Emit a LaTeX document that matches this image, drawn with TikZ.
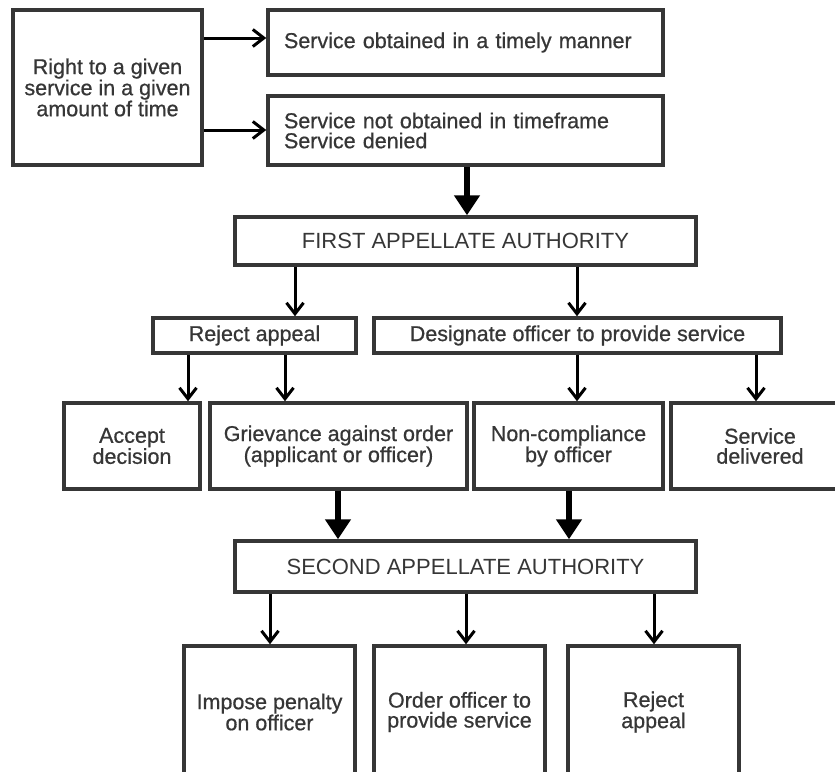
\documentclass[tikz,border=0pt]{standalone}
\usepackage{fontspec}
\setmainfont{Liberation Sans}
\newfontfamily\heavyfont[FakeBold=0.7]{Liberation Sans}
\usetikzlibrary{arrows.meta}
\definecolor{boxgray}{HTML}{363636}
\tikzset{box/.style={draw=boxgray,line width=3.5pt,inner sep=2pt,align=center,text=boxgray,font=\heavyfont\fontsize{21.5}{20}\selectfont}}
\tikzset{leftbox/.style={box,inner xsep=16pt,text width=363pt,align=left,minimum width=395pt}}
\tikzset{arr/.style={-{Straight Barb[length=11pt,width=17pt]},line width=3pt}}
\tikzset{bigarr/.style={-{Triangle[length=20pt,width=25pt]},line width=5.5pt}}

\begin{document}
\begin{tikzpicture}[x=1pt,y=-1pt]
% page is a cut of a larger chart
\clip (0,0) rectangle (835,771);
\node (right) [box,minimum width=189pt,minimum height=155pt] at (107.5,87.5) {Right to a given\\service in a given\\amount of time};
\node (timely) [leftbox,minimum height=65pt] at (465.5,42.5) {Service obtained in a timely manner};
\node (notobt) [leftbox,minimum height=69pt] at (465.5,130.5) {Service not obtained in timeframe\\Service denied};
%
\node (faa) [box,font=\fontsize{22}{22}\selectfont,minimum width=461pt,minimum height=48pt] at (465.5,241) {FIRST APPELLATE AUTHORITY};
\node (rejone) [box,minimum width=203pt,minimum height=35pt] at (254.5,335.5) {Reject appeal};
\node (desig) [box,minimum width=407pt,minimum height=35pt] at (577.5,335.5) {Designate officer to provide service};
%
\node (accept) [box,minimum width=136pt,minimum height=86pt] at (132,446) {Accept\\decision};
\node (griev) [box,minimum width=257pt,minimum height=86pt] at (338.5,446) {Grievance against order\\(applicant or officer)};
\node (noncomp) [box,minimum width=189pt,minimum height=86pt] at (568.5,446) {Non-compliance\\by officer};
\node (deliv) [box,minimum width=178pt,minimum height=86pt] at (760,446) {Service\\delivered};
%
\node (saa) [box,font=\fontsize{22}{22}\selectfont,minimum width=461pt,minimum height=51pt] at (465.5,566.5) {SECOND APPELLATE AUTHORITY};
\node (impose) [box,minimum width=171pt,minimum height=132pt] at (269.5,712) {Impose penalty\\on officer};
\node (order) [box,minimum width=171pt,minimum height=132pt] at (459.5,712) {Order officer to\\provide service};
\node (rejtwo) [box,minimum width=171pt,minimum height=132pt] at (653.5,712) {Reject\\appeal};
%
\draw[arr] (right.east |- 0,38) -- (timely.west |- 0,38);
\draw[arr] (right.east |- 0,130) -- (notobt.west |- 0,130);
\draw[bigarr] (notobt.south -| 467,0) -- (faa.north -| 467,0);
\draw[arr] (faa.south -| 295,0) -- (rejone.north -| 295,0);
\draw[arr] (faa.south -| 577,0) -- (desig.north -| 577,0);
\draw[arr] (rejone.south -| 188,0) -- (accept.north -| 188,0);
\draw[arr] (rejone.south -| 285,0) -- (griev.north -| 285,0);
\draw[arr] (desig.south -| 577,0) -- (noncomp.north -| 577,0);
\draw[arr] (desig.south -| 756,0) -- (deliv.north -| 756,0);
\draw[bigarr] (griev.south -| 338,0) -- (saa.north -| 338,0);
\draw[bigarr] (noncomp.south -| 569,0) -- (saa.north -| 569,0);
\draw[arr] (saa.south -| 270,0) -- (impose.north -| 270,0);
\draw[arr] (saa.south -| 466,0) -- (order.north -| 466,0);
\draw[arr] (saa.south -| 654,0) -- (rejtwo.north -| 654,0);
\end{tikzpicture}
\end{document}
